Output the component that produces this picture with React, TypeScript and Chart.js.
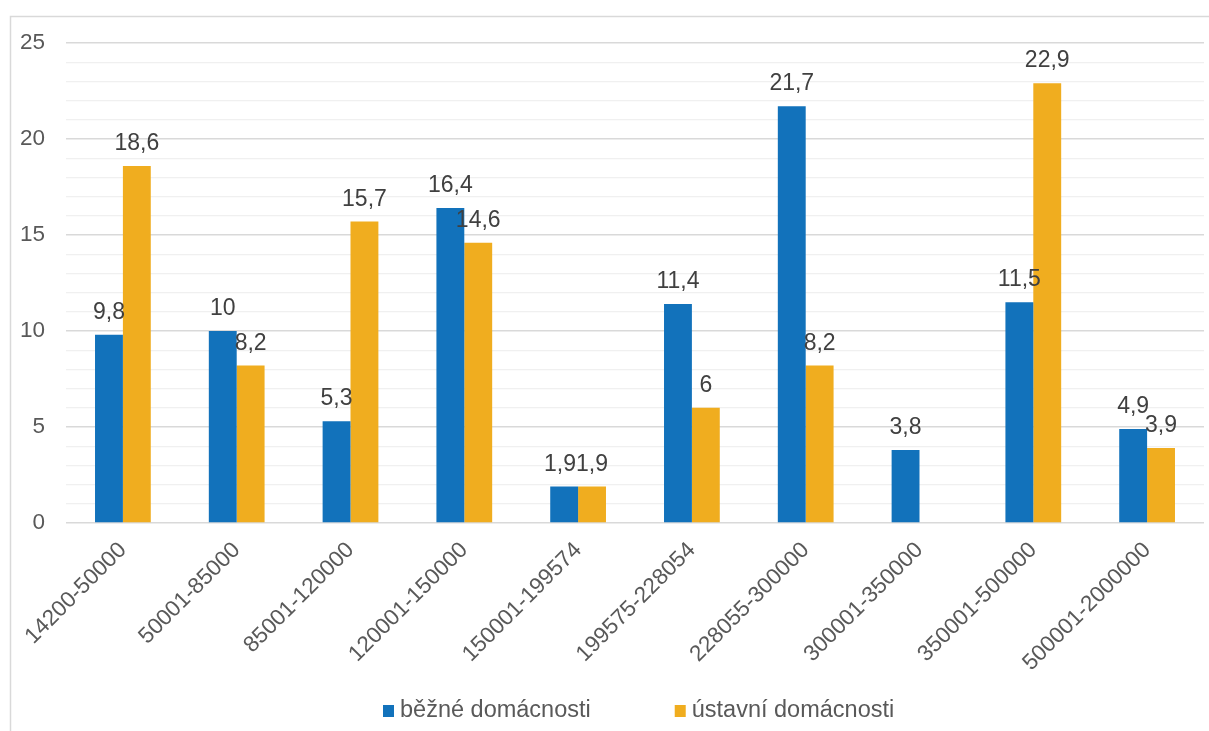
import React, { useEffect, useRef } from "react";
import { Chart, registerables } from "chart.js";

Chart.register(...registerables);

const categories = [
  "14200-50000",
  "50001-85000",
  "85001-120000",
  "120001-150000",
  "150001-199574",
  "199575-228054",
  "228055-300000",
  "300001-350000",
  "350001-500000",
  "500001-2000000",
];
const bezneDomacnosti = [9.8, 10, 5.3, 16.4, 1.9, 11.4, 21.7, 3.8, 11.5, 4.9];
const ustavniDomacnosti = [18.6, 8.2, 15.7, 14.6, 1.9, 6, 8.2, null, 22.9, 3.9];
const seriesNames = ["běžné domácnosti", "ústavní domácnosti"];
const seriesColors = ["#1272BB", "#F0AD1F"];
const yTickLabels = [0, 5, 10, 15, 20, 25];

const FONT = "'Liberation Sans', Arial, sans-serif";

const framePlugin = {
  id: "frame",
  beforeDraw(chart: any) {
    const ctx = chart.ctx;
    ctx.save();
    ctx.fillStyle = "#ffffff";
    ctx.fillRect(0, 0, chart.width, chart.height);
    ctx.strokeStyle = "#d9d9d9";
    ctx.lineWidth = 1.5;
    ctx.strokeRect(10.5, 16.5, 1400, 1000);
    ctx.restore();
  },
};

const dataLabelPlugin = {
  id: "dataLabels",
  afterDatasetsDraw(chart: any) {
    const ctx = chart.ctx;
    ctx.save();
    ctx.font = `23px ${FONT}`;
    ctx.fillStyle = "#404040";
    ctx.textAlign = "center";
    ctx.textBaseline = "alphabetic";
    const n = chart.data.labels.length;
    for (let i = 0; i < n; i++) {
      const items: { x: number; y: number; w: number; t: string }[] = [];
      chart.data.datasets.forEach((ds: any, di: number) => {
        const v = ds.data[i];
        if (v === null || v === undefined) return;
        const el = chart.getDatasetMeta(di).data[i];
        const t = String(v).replace(".", ",");
        items.push({ x: el.x, y: el.y - 16, w: ctx.measureText(t).width, t });
      });
      // avoid overlapping labels within a category by moving the earlier one left
      for (let k = items.length - 1; k > 0; k--) {
        const a = items[k - 1];
        const b = items[k];
        if (Math.abs(a.y - b.y) < 18) {
          const overlap = a.x + a.w / 2 - (b.x - b.w / 2);
          if (overlap > 0) a.x -= overlap;
        }
      }
      items.forEach((it) => ctx.fillText(it.t, it.x, it.y));
    }
    ctx.restore();
  },
};

const legendPlugin = {
  id: "customLegend",
  afterDraw(chart: any) {
    const ctx = chart.ctx;
    ctx.save();
    ctx.font = `23.5px ${FONT}`;
    ctx.textBaseline = "middle";
    ctx.textAlign = "left";
    const cy = 711;
    let x = 383;
    seriesNames.forEach((name, i) => {
      ctx.fillStyle = seriesColors[i];
      ctx.fillRect(x, cy - 6, 11, 12);
      ctx.fillStyle = "#595959";
      ctx.fillText(name, x + 17, cy);
      x += 17 + ctx.measureText(name).width + 84;
    });
    ctx.restore();
  },
};

export default function App() {
  const ref = useRef<HTMLCanvasElement>(null);
  useEffect(() => {
    if (!ref.current) return;
    const chart = new Chart(ref.current, {
      type: "bar",
      data: {
        labels: categories,
        datasets: [
          {
            label: seriesNames[0],
            data: bezneDomacnosti,
            backgroundColor: seriesColors[0],
            categoryPercentage: 0.49,
            barPercentage: 1,
          },
          {
            label: seriesNames[1],
            data: ustavniDomacnosti as any,
            backgroundColor: seriesColors[1],
            categoryPercentage: 0.49,
            barPercentage: 1,
          },
        ],
      },
      options: {
        responsive: false,
        animation: false,
        layout: { padding: { left: 10, top: 43, right: 5, bottom: 58 } },
        plugins: {
          legend: { display: false },
          tooltip: { enabled: false },
        },
        scales: {
          x: {
            grid: { display: false },
            border: { display: false },
            ticks: {
              autoSkip: false,
              maxRotation: 45,
              minRotation: 45,
              padding: 6,
              color: "#595959",
              font: { family: FONT, size: 22.5 },
            },
            afterFit: (s: any) => {
              s.height = 150;
            },
          },
          y: {
            min: 0,
            max: 25,
            border: { display: false },
            grid: {
              drawTicks: false,
              color: (c: any) =>
                yTickLabels.includes(c.tick.value) ? "#d9d9d9" : "#f0f0f0",
              lineWidth: (c: any) => (yTickLabels.includes(c.tick.value) ? 1.5 : 1.2),
            },
            ticks: {
              stepSize: 1,
              autoSkip: false,
              padding: 21,
              color: "#595959",
              font: { family: FONT, size: 22.5 },
              callback: (v: any) => (yTickLabels.includes(v) ? String(v) : ""),
            },
            afterFit: (s: any) => {
              s.width = 56;
            },
          },
        },
      },
      plugins: [framePlugin, dataLabelPlugin, legendPlugin],
    });
    return () => chart.destroy();
  }, []);
  return (
    <div style={{ position: "absolute", left: 0, top: 0, width: 1209, height: 731 }}>
      <canvas ref={ref} width={1209} height={731} style={{ display: "block" }} />
    </div>
  );
}
